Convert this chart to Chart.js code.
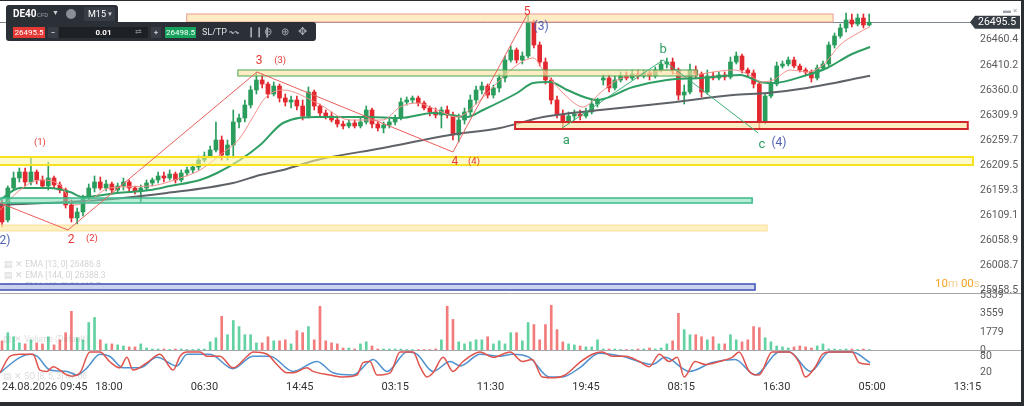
<!DOCTYPE html>
<html>
<head>
<meta charset="utf-8">
<script src="https://cdn.jsdelivr.net/npm/chart.js@4.4.1/dist/chart.umd.min.js"></script>
<style>
  html, body { margin: 0; padding: 0; width: 1024px; height: 406px; overflow: hidden; background: #2a2d31;
    font-family: Roboto, 'Liberation Sans', sans-serif; }
  #frame { position: absolute; left: 0; top: 1px; width: 1021px; height: 401px; background: #fff; }
  #frame canvas { position: absolute; left: 0; top: 0; }
  .tb { position: absolute; background: #2b2f36; }
  .t { position: absolute; white-space: nowrap; line-height: 1; color: #fff; }
  .box { position: absolute; height: 11px; line-height: 11px; font-size: 8px; color: #fff; text-align: center; }
</style>
</head>
<body>
<div id="frame"><canvas id="chart" width="1021" height="401"></canvas></div>

<!-- trading toolbar -->
<div class="tb" style="left:6px;top:5px;width:112px;height:18px;border-radius:3px 3px 0 0;"></div>
<div class="tb" style="left:6px;top:22px;width:310px;height:19px;border-radius:0 3px 3px 3px;"></div>
<span class="t" style="left:13px;top:9px;font-size:10px;font-weight:bold;">DE40</span>
<span class="t" style="left:37px;top:12px;font-size:6px;color:#9aa0a8;">CFD</span>
<span class="t" style="left:52px;top:10px;font-size:7px;color:#cfd3d8;">&#9660;</span>
<span class="t" style="left:66px;top:9px;width:10px;height:10px;border-radius:50%;background:#8a8f96;"></span>
<span class="t" style="left:84px;top:7px;width:31px;height:14px;border-radius:2px;background:#383d45;"></span>
<span class="t" style="left:88px;top:10px;font-size:9px;">M15</span>
<span class="t" style="left:107px;top:11px;font-size:6px;color:#cfd3d8;">&#9660;</span>
<span class="box" style="left:13px;top:27px;width:32px;background:#e53935;">26495.5</span>
<span class="box" style="left:48px;top:27px;width:10px;background:#383d45;">&minus;</span>
<span class="box" style="left:59px;top:27px;width:89px;background:#1d2025;font-weight:bold;">0.01</span>
<span class="t" style="left:135px;top:28px;font-size:8px;color:#777c83;">&#8644;</span>
<span class="box" style="left:151px;top:27px;width:10px;background:#383d45;">+</span>
<span class="box" style="left:165px;top:27px;width:31px;background:#16a35d;">26498.5</span>
<span class="t" style="left:202px;top:28px;font-size:9px;color:#dfe3e8;">SL/TP</span>
<span class="t" style="left:229px;top:27px;font-size:10px;color:#a7adb5;">&#12336;</span>
<span class="t" style="left:247px;top:27px;font-size:10px;color:#a7adb5;">&#10073;&#10073;&#10073;</span>
<span class="t" style="left:264px;top:27px;font-size:10px;color:#a7adb5;">&#8854;</span>
<span class="t" style="left:281px;top:27px;font-size:10px;color:#a7adb5;">&#8853;</span>
<span class="t" style="left:298px;top:26px;font-size:11px;color:#a7adb5;">&#10021;</span>
<span class="t" style="left:1003px;top:7px;font-size:8px;color:#9aa0a8;">&#9644; &#215;</span>
<span class="t" style="left:935px;top:278px;font-size:11.5px;">
  <span style="color:#f5a21f;">10</span><span style="color:#f6cf93;">m </span><span style="color:#f5a21f;">00</span><span style="color:#f6cf93;">s</span>
</span>

<script>
// DE40 CFD, M15 candles (each candle here spans two 15-minute slots)
const opens = [
  26130,26100,26164,26184,26196,26176,26196,26180,26168,26184,
  26170,26160,26130,26104,26116,26144,26164,26176,26164,26172,
  26160,26168,26176,26164,26158,26164,26174,26180,26188,26184,
  26192,26180,26194,26200,26206,26220,26228,26240,26260,26230,
  26250,26296,26304,26330,26360,26380,26372,26352,26368,26344,
  26336,26340,26328,26308,26356,26328,26314,26308,26300,26292,
  26288,26294,26288,26296,26320,26292,26284,26290,26296,26304,
  26336,26340,26344,26334,26324,26316,26310,26320,26310,26270,
  26300,26316,26340,26360,26368,26350,26364,26384,26420,26440,
  26420,26428,26496,26450,26416,26380,26340,26310,26296,26308,
  26312,26308,26316,26332,26380,26384,26364,26380,26388,26384,
  26392,26388,26394,26388,26400,26412,26416,26400,26350,26356,
  26400,26392,26356,26388,26384,26390,26386,26416,26428,26400,
  26394,26372,26296,26348,26372,26408,26412,26420,26408,26400,
  26396,26384,26404,26412,26450,26468,26484,26500,26492,26504,26490
];
const highs = [
  26140,26168,26196,26204,26204,26224,26200,26188,26216,26188,
  26176,26164,26140,26124,26150,26172,26188,26186,26180,26176,
  26174,26184,26180,26168,26170,26180,26184,26196,26196,26200,
  26196,26200,26206,26212,26228,26236,26248,26296,26268,26260,
  26320,26312,26340,26368,26396,26392,26376,26376,26372,26352,
  26348,26348,26340,26366,26360,26332,26320,26316,26304,26298,
  26300,26300,26304,26328,26324,26296,26296,26302,26310,26344,
  26346,26348,26348,26338,26328,26324,26326,26328,26316,26312,
  26324,26350,26368,26376,26372,26370,26392,26428,26448,26444,
  26436,26510,26500,26456,26424,26384,26348,26320,26316,26320,
  26320,26324,26340,26344,26390,26390,26388,26396,26396,26400,
  26400,26400,26398,26406,26420,26424,26424,26404,26370,26412,
  26408,26396,26400,26396,26396,26396,26426,26436,26432,26404,
  26400,26376,26352,26384,26416,26418,26426,26426,26412,26404,
  26400,26410,26418,26456,26474,26492,26514,26512,26512,26512,26512
];
const lows = [
  26086,26096,26160,26176,26168,26170,26172,26164,26160,26164,
  26154,26124,26096,26092,26108,26140,26156,26160,26158,26154,
  26154,26160,26156,26152,26136,26160,26168,26174,26176,26180,
  26174,26176,26188,26194,26200,26216,26224,26236,26220,26220,
  26224,26284,26296,26324,26352,26364,26344,26348,26336,26328,
  26324,26320,26300,26304,26320,26308,26302,26296,26286,26282,
  26284,26284,26284,26292,26284,26278,26274,26284,26290,26300,
  26330,26334,26328,26320,26308,26304,26284,26304,26260,26256,
  26292,26310,26332,26352,26344,26344,26356,26376,26416,26414,
  26412,26424,26444,26408,26372,26332,26304,26284,26292,26300,
  26300,26304,26312,26326,26370,26356,26360,26376,26380,26380,
  26382,26384,26380,26384,26396,26404,26392,26340,26332,26352,
  26384,26346,26352,26380,26380,26380,26382,26412,26394,26386,
  26364,26284,26292,26344,26368,26404,26408,26404,26396,26390,
  26376,26380,26400,26408,26444,26464,26476,26486,26488,26484,26488
];
const closes = [
  26096,26164,26184,26196,26176,26196,26180,26168,26184,26170,
  26160,26130,26104,26116,26144,26164,26176,26164,26172,26160,
  26168,26176,26164,26158,26164,26174,26180,26188,26184,26192,
  26180,26194,26200,26206,26220,26228,26240,26260,26230,26250,
  26296,26304,26330,26360,26380,26372,26352,26368,26344,26336,
  26340,26328,26308,26356,26328,26314,26308,26300,26292,26288,
  26294,26288,26296,26320,26292,26284,26290,26296,26304,26336,
  26340,26344,26334,26324,26316,26310,26320,26310,26270,26300,
  26316,26340,26360,26368,26350,26364,26384,26420,26440,26420,
  26428,26496,26450,26416,26380,26340,26310,26296,26308,26312,
  26308,26316,26332,26340,26384,26364,26380,26388,26384,26392,
  26388,26394,26388,26400,26412,26416,26400,26350,26356,26400,
  26392,26356,26388,26384,26390,26386,26416,26428,26400,26394,
  26372,26296,26348,26372,26408,26412,26420,26408,26400,26396,
  26384,26404,26412,26450,26468,26484,26500,26492,26504,26490,26495.5
];
const volumes = [
  900,1700,1300,700,600,1000,700,600,1300,500,
  1000,1700,3800,1200,1000,2700,3200,1000,600,600,
  500,400,300,300,600,200,100,100,100,50,
  100,100,50,50,100,100,800,1200,3300,1500,
  2900,2300,1500,1500,700,700,1300,900,900,1000,
  600,1900,1700,2300,1000,4300,900,700,600,200,
  200,100,600,800,400,100,100,100,100,100,
  50,50,50,50,50,100,1000,4300,3000,800,
  600,800,1000,1000,1300,600,900,600,1700,1700,
  900,2700,2500,1000,2500,4400,2000,800,600,500,
  400,300,300,1000,100,100,100,50,50,50,
  100,100,200,100,200,600,900,3600,2000,1500,
  1500,1300,1000,1300,600,600,1500,1000,800,1000,
  2300,2200,1200,800,400,300,200,300,400,300,
  200,400,600,100,100,50,100,100,50,100,50
];

// moving averages, [bar index, price]
const emaFast = [[-4.7,26120],[2.2,26160],[9.1,26180],[16.1,26170],[21.2,26130],[26.4,26140],[33.2,26164],[47.2,26168],
  [57.6,26184],[64.5,26200],[71.4,26230],[78.3,26264],[82.8,26306],[87,26344],[93.2,26360],[105,26334],[116.4,26300],
  [127.8,26300],[133.7,26326],[139.6,26334],[146.5,26320],[153.4,26306],[160.4,26334],[168.3,26380],[175.2,26414],
  [179.8,26424],[183.2,26400],[191.5,26346],[197,26326],[202.9,26354],[208.8,26380],[220.2,26394],[226,26400],
  [231.6,26386],[239.9,26394],[248.9,26400],[255.9,26386],[258.3,26376],[262.8,26380],[268.7,26400],[274.5,26396],
  [280,26410],[285.9,26450],[292.8,26476],[296.3,26486.8]];
const emaMid = [[-4.7,26140],[2.2,26164],[12.6,26164],[19.5,26156],[24,26146],[35.8,26154],[47.2,26160],[54.1,26168],
  [64.5,26180],[70.4,26194],[78.3,26220],[85.3,26250],[93.2,26294],[105,26306],[122.3,26306],[133.7,26304],[145.1,26314],
  [156.9,26306],[162.4,26320],[174.2,26354],[179.8,26374],[185.6,26376],[191.5,26360],[201.9,26340],[214.3,26366],
  [226,26380],[237.5,26384],[251.4,26390],[258.3,26376],[262.8,26374],[274.5,26390],[281.4,26404],[289.4,26430],[296.3,26446]];
const emaSlow = [[-4.7,26130],[29.9,26140],[53.1,26154],[75.9,26174],[85.3,26190],[93.2,26200],[105,26220],[127.8,26244],
  [151,26270],[168.3,26284],[183.2,26306],[202.9,26320],[226,26334],[248.9,26350],[260.7,26354],[274.5,26364],[296.3,26388.3]];

// stochastic oscillator, [bar index, value]
const stochK = [[-4.7,20],[-1.2,80],[2.2,87],[6.7,87],[9.1,30],[11.6,25],[13.6,42],[18.5,12],[20.2,8],[23,20],[26.4,95],
  [29.9,95],[33.2,61],[36.8,38],[39.2,76],[41.3,30],[46.2,57],[50.6,87],[55.2,30],[57.6,80],[60,95],[64.5,95],[66.9,80],
  [71.4,80],[75.9,38],[80.8,80],[82.8,95],[87.7,87],[91.1,50],[94.6,20],[96.7,20],[101.5,38],[103.6,25],[109.5,12],
  [114,5],[118.8,12],[120.9,57],[123.3,61],[125.7,12],[130.3,20],[133.7,95],[138.2,95],[140.6,42],[143,5],[145.1,20],
  [148.6,76],[152,25],[155.5,61],[161.4,95],[165.9,76],[171.8,95],[176,61],[179.4,68],[182.9,5],[187.3,2],[190.8,12],
  [195.8,57],[200.2,87],[203.6,95],[207.1,80],[211.6,80],[216.5,61],[219.9,42],[223.4,87],[226.8,61],[229.6,76],[232,5],
  [235.8,61],[239.3,50],[244.1,61],[248.6,76],[251,95],[254.5,25],[257.9,12],[262.4,95],[268.3,95],[271.8,57],[273.9,5],
  [277.4,42],[279.8,87],[282.2,95],[287.7,95],[290.1,95],[292.5,57],[296.3,50]];
const stochD = [[-4.7,20],[2.2,76],[5.7,87],[8.1,80],[12.6,30],[18.5,25],[21.9,12],[25.4,38],[29.9,87],[33.2,80],[37.9,38],
  [43.7,38],[49.6,76],[56.5,45],[60,87],[67.9,87],[75.9,35],[82.8,80],[88.7,80],[96.7,25],[105,61],[110.5,20],[117.4,12],
  [124.4,68],[129.2,25],[136.1,95],[139.6,87],[145.1,25],[151,61],[154.5,45],[161.4,87],[168.3,80],[172.5,87],[178.4,76],
  [185.3,5],[189.8,5],[195.8,38],[202.6,91],[210.5,80],[221,50],[225.4,76],[233.8,25],[241.7,57],[249.6,68],[256.6,12],
  [264.9,95],[268.3,95],[275.7,25],[282.2,95],[290.1,95],[296.3,57]];

// axis ticks
const priceTicks = [26460.4, 26410.2, 26360.0, 26309.9, 26259.7, 26209.5, 26159.3, 26109.1, 26058.9, 26008.7, 25958.5];
const volumeTicks = [0, 1779, 3559, 5339];
const stochTicks = [20, 80];
const timeTickIdx = [0, 33, 66, 99, 132, 165, 198, 231, 264, 297, 330];
const timeLabels = ['24.08.2026 09:45', '18:00', '06:30', '14:45', '03:15', '11:30', '19:45', '08:15', '16:30', '05:00', '13:15'];

// drawn objects: zones, wave count lines, wave labels
const zones = [
  { from: 59.9, to: 283.5, lo: 26496, hi: 26512, kind: 'top' },
  { from: 77.6, to: 236.5, lo: 26388, hi: 26400, kind: 'green' },
  { from: 173.5, to: 330.1, lo: 26282, hi: 26296, kind: 'red' },
  { from: -6, to: 331.9, lo: 26210, hi: 26226, kind: 'yellow' },
  { from: -6, to: 255.5, lo: 26134, hi: 26144, kind: 'teal' },
  { from: -6, to: 260.7, lo: 26078, hi: 26090, kind: 'sand' },
  { from: -6, to: 256.5, lo: 25960, hi: 25972, kind: 'blue' }
];
const impulseLine = [[-4.7,26134],[18.8,26080],[84.2,26396],[152,26236],[177.6,26510]];
const correctionLine = [[189.8,26284],[224.7,26420],[257.6,26274]];
const waveLabels = [
  [-3.7, 26058, '(2)', 'blue'], [19.9, 26060, '2', 'red'], [27.1, 26062, '(2)', 'redSmall'],
  [9.1, 26254, '(1)', 'redSmall'], [84.9, 26418, '3', 'red'], [92.2, 26418, '(3)', 'redSmall'],
  [152.7, 26216, '4', 'red'], [159.3, 26216, '(4)', 'redSmall'], [177.7, 26516, '5', 'red'],
  [182.5, 26486, '(3)', 'blue'], [191.2, 26258, 'a', 'green'], [224.7, 26440, 'b', 'green'],
  [258.9, 26250, 'c', 'green'], [264.8, 26254, '(4)', 'blue']
];

const FONT = "Roboto, 'Liberation Sans', sans-serif";
const UP = '#2a9d5c', DOWN = '#e2282e';
const zoneStyle = {
  top:    { fill: 'rgba(253,228,165,0.65)', stroke: '#ee9a96', lw: 1 },
  green:  { fill: 'rgba(253,228,165,0.65)', stroke: '#46a84e', lw: 1 },
  red:    { fill: 'rgba(253,228,165,0.65)', stroke: '#d3262a', lw: 2 },
  yellow: { fill: 'rgba(255,245,160,0.55)', stroke: '#f6e21e', lw: 2 },
  teal:   { fill: 'rgba(125,220,180,0.55)', stroke: '#3dbb8a', lw: 1.5 },
  sand:   { fill: 'rgba(255,235,170,0.75)', stroke: 'rgba(250,222,150,0.9)', lw: 1 },
  blue:   { fill: 'rgba(200,205,236,0.9)', stroke: '#3f51b5', lw: 1.5 }
};
const labelStyle = {
  red:      { color: '#e53935', size: 12 },
  redSmall: { color: '#e53935', size: 9.5 },
  blue:     { color: '#4e5fb0', size: 12 },
  green:    { color: '#2e9e62', size: 13 }
};

const candleIdx = closes.map((_, i) => -4 + 2 * i);
const isUp = closes.map((c, i) => c >= opens[i]);
const candleColors = isUp.map(u => u ? UP : DOWN);
const toXY = arr => arr.map(([x, y]) => ({ x, y }));

function fitAxis(scale) {
  scale.width = 46;
  scale.paddingTop = 0;
  scale.paddingBottom = 0;
}

function axisOpts(extra) {
  return Object.assign({
    type: 'linear',
    position: 'right',
    stack: 'panes',
    grid: { display: false, drawTicks: false },
    border: { display: false },
    afterFit: fitAxis
  }, extra);
}

const overlayPlugin = {
  id: 'overlay',
  beforeDatasetsDraw(chart) {
    const { ctx, chartArea: a, scales: { y } } = chart;
    const py = Math.round(y.getPixelForValue(closes[closes.length - 1])) + 0.5;
    ctx.save();
    ctx.strokeStyle = '#80868d';
    ctx.lineWidth = 1;
    ctx.beginPath();
    ctx.moveTo(a.left, py);
    ctx.lineTo(a.right, py);
    ctx.stroke();
    ctx.restore();
  },
  afterDatasetsDraw(chart) {
    const { ctx, chartArea: a, scales: { x, y } } = chart;
    ctx.save();
    ctx.beginPath();
    ctx.rect(a.left, a.top, a.right - a.left, chart.scales.y.bottom - a.top);
    ctx.clip();

    // faded indicator legends
    ctx.font = '8.5px ' + FONT;
    ctx.fillStyle = 'rgba(140,140,140,0.38)';
    ctx.textBaseline = 'middle';
    ctx.textAlign = 'left';
    ctx.fillText('\u25A4 \u2715 EMA [13, 0] 26486.8', 4, 264);
    ctx.fillText('\u25A4 \u2715 EMA [144, 0] 26388.3', 4, 275);
    ctx.fillText('\u25A4 \u2715 EMA [48, 0] 26445.7', 4, 286);

    // zones
    zones.forEach(z => {
      const s = zoneStyle[z.kind];
      const x0 = x.getPixelForValue(z.from), x1 = x.getPixelForValue(z.to);
      const y0 = y.getPixelForValue(z.hi), y1 = y.getPixelForValue(z.lo);
      ctx.fillStyle = s.fill;
      ctx.fillRect(x0, y0, x1 - x0, y1 - y0);
      ctx.strokeStyle = s.stroke;
      ctx.lineWidth = s.lw;
      ctx.strokeRect(x0, y0, x1 - x0, y1 - y0);
    });

    // wave count lines
    const poly = (pts, color) => {
      ctx.strokeStyle = color;
      ctx.lineWidth = 1;
      ctx.beginPath();
      pts.forEach(([i, p], n) => {
        const px = x.getPixelForValue(i), py = y.getPixelForValue(p);
        n ? ctx.lineTo(px, py) : ctx.moveTo(px, py);
      });
      ctx.stroke();
    };
    poly(impulseLine, '#e8605c');
    poly(correctionLine, '#3fae78');

    // wave labels
    ctx.textAlign = 'center';
    waveLabels.forEach(([i, p, text, tone]) => {
      const s = labelStyle[tone];
      ctx.font = s.size + 'px ' + FONT;
      ctx.fillStyle = s.color;
      ctx.fillText(text, x.getPixelForValue(i), y.getPixelForValue(p));
    });
    ctx.restore();
  },
  afterDraw(chart) {
    const { ctx, chartArea: a, scales: { x, y, yVol } } = chart;
    ctx.save();
    // pane separators
    ctx.strokeStyle = '#a3a7ab';
    ctx.lineWidth = 1;
    [yVol.top, yVol.bottom].forEach(v => {
      const py = Math.round(v) + 0.5;
      ctx.beginPath();
      ctx.moveTo(0, py);
      ctx.lineTo(chart.width, py);
      ctx.stroke();
    });

    // last price tag
    const last = closes[closes.length - 1];
    const py = y.getPixelForValue(last);
    ctx.fillStyle = '#363c44';
    ctx.beginPath();
    ctx.moveTo(a.right - 5, py);
    ctx.lineTo(a.right, py - 6.5);
    ctx.lineTo(a.right + 45, py - 6.5);
    ctx.lineTo(a.right + 45, py + 6.5);
    ctx.lineTo(a.right, py + 6.5);
    ctx.closePath();
    ctx.fill();
    ctx.fillStyle = '#fff';
    ctx.font = '10.5px ' + FONT;
    ctx.textAlign = 'left';
    ctx.textBaseline = 'middle';
    ctx.fillText(last.toFixed(1), a.right + 3, py + 0.5);

    // time axis labels
    ctx.fillStyle = '#333';
    ctx.font = '11px ' + FONT;
    timeTickIdx.forEach((v, i) => {
      const w = ctx.measureText(timeLabels[i]).width;
      const left = Math.max(x.getPixelForValue(v) - w / 2, 2);
      ctx.fillText(timeLabels[i], left, 386);
    });

    // faded pane legends
    ctx.font = '8.5px ' + FONT;
    ctx.fillStyle = 'rgba(140,140,140,0.3)';
    ctx.fillText('\u25A4 \u2715 Volume (Default)', 3, 339);
    ctx.fillText('\u25A4 \u2715 SO [8, 5, 3] 47.66', 3, 376);
    ctx.restore();
  }
};

const tickFont = { size: 10.5, family: FONT };

new Chart(document.getElementById('chart'), {
  type: 'bar',
  data: {
    datasets: [
      { type: 'line', label: 'EMA 13', data: toXY(emaFast), yAxisID: 'y', borderColor: '#f29089',
        borderWidth: 1, pointRadius: 0, cubicInterpolationMode: 'monotone', order: 0 },
      { type: 'line', label: 'EMA 48', data: toXY(emaMid), yAxisID: 'y', borderColor: '#2e9e62',
        borderWidth: 2, pointRadius: 0, cubicInterpolationMode: 'monotone', order: 0 },
      { type: 'line', label: 'EMA 144', data: toXY(emaSlow), yAxisID: 'y', borderColor: '#5f6368',
        borderWidth: 2, pointRadius: 0, cubicInterpolationMode: 'monotone', order: 0 },
      { label: 'Body', data: candleIdx.map((v, i) => ({ x: v, y: [opens[i], closes[i]] })), yAxisID: 'y',
        backgroundColor: candleColors, barThickness: 4, minBarLength: 1, grouped: false, order: 1 },
      { label: 'Wick', data: candleIdx.map((v, i) => ({ x: v, y: [lows[i], highs[i]] })), yAxisID: 'y',
        backgroundColor: candleColors, barThickness: 1, grouped: false, order: 2 },
      { label: 'Volume', data: candleIdx.map((v, i) => ({ x: v, y: volumes[i] })), yAxisID: 'yVol',
        backgroundColor: isUp.map(u => u ? '#62d2a2' : '#f27b7b'), barThickness: 2, grouped: false, order: 3 },
      { type: 'line', label: '%K', data: toXY(stochK), yAxisID: 'yStoch', borderColor: '#e0524c',
        borderWidth: 1.5, pointRadius: 0, cubicInterpolationMode: 'monotone', order: 0 },
      { type: 'line', label: '%D', data: toXY(stochD), yAxisID: 'yStoch', borderColor: '#4f92cf',
        borderWidth: 1.5, pointRadius: 0, cubicInterpolationMode: 'monotone', order: 0 }
    ]
  },
  options: {
    responsive: false,
    animation: false,
    events: [],
    layout: { padding: { left: 0, right: 0, top: 0, bottom: 22 } },
    plugins: { legend: { display: false }, tooltip: { enabled: false } },
    scales: {
      x: { type: 'linear', min: -4.7, max: 332.6, offset: false, display: false },
      y: axisOpts({
        stackWeight: 292, min: 25954, max: 26538,
        afterBuildTicks: s => { s.ticks = priceTicks.map(v => ({ value: v })); },
        ticks: { color: '#5a5a5a', font: tickFont, padding: 5, autoSkip: false, callback: v => v.toFixed(1) }
      }),
      yVol: axisOpts({
        stackWeight: 57, min: 0, max: 5600,
        afterBuildTicks: s => { s.ticks = volumeTicks.map(v => ({ value: v })); },
        ticks: { color: '#5a5a5a', font: tickFont, padding: 5, autoSkip: false, callback: v => String(v) }
      }),
      yStoch: axisOpts({
        stackWeight: 30, min: -6, max: 102.5,
        afterBuildTicks: s => { s.ticks = stochTicks.map(v => ({ value: v })); },
        ticks: { color: '#5a5a5a', font: tickFont, padding: 5, autoSkip: false, callback: v => String(v) }
      })
    }
  },
  plugins: [overlayPlugin]
});
</script>
</body>
</html>
